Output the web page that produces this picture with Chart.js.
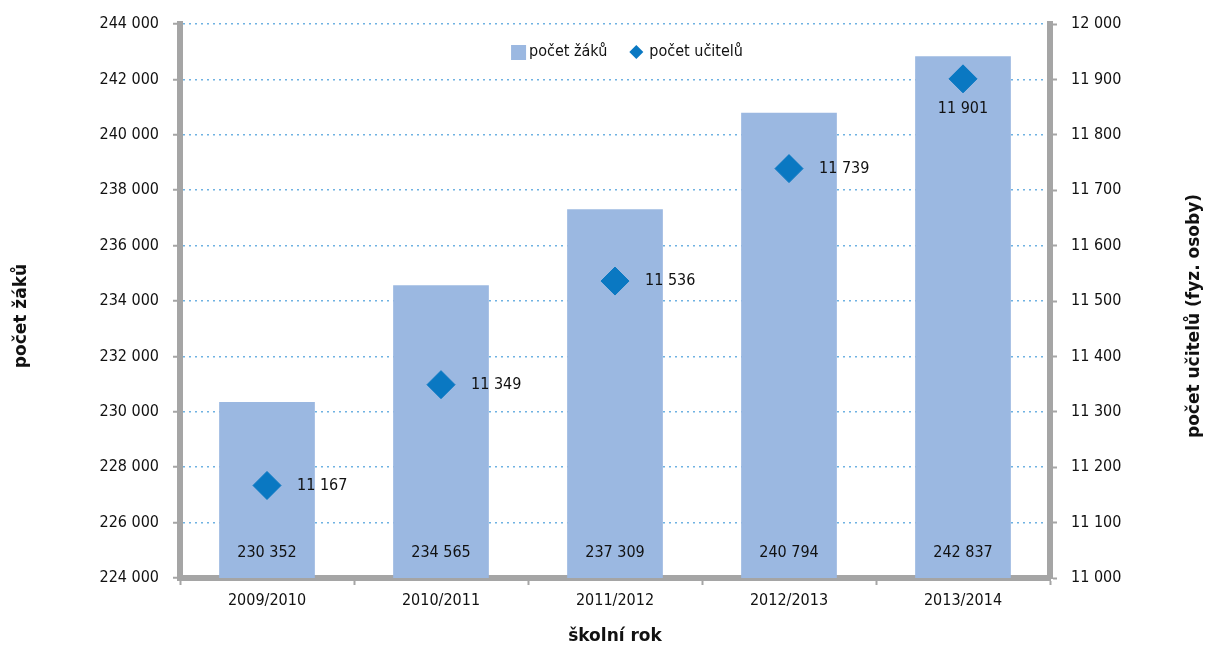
<!DOCTYPE html>
<html>
<head>
<meta charset="utf-8">
<script src="https://cdn.jsdelivr.net/npm/chart.js@4.4.1/dist/chart.umd.min.js"></script>
<style>
  html, body { margin: 0; padding: 0; background: #fff; }
  #wrap { width: 1209px; height: 648px; }
</style>
</head>
<body>
<div id="wrap"><canvas id="chart"></canvas></div>
<script>
// data
const years = ['2009/2010', '2010/2011', '2011/2012', '2012/2013', '2013/2014'];
const pupils = [230352, 234565, 237309, 240794, 242837];
const teachers = [11167, 11349, 11536, 11739, 11901];
const leftTitle = 'počet žáků';
const rightTitle = 'počet učitelů (fyz. osoby)';

const FONT = "'DejaVu Sans Condensed', 'Liberation Sans Narrow', sans-serif";
const TITLE_FONT = "'DejaVu Sans', sans-serif";
const BAR_COLOR = '#9bb8e1';
const DOT_COLOR = '#0a78c2';
const AXIS_GRAY = '#a5a5a5';

function fmt(v) {
    return String(v).replace(/\B(?=(\d{3})+(?!\d))/g, ' ');
}

// value labels: bar values at the foot of each bar, teacher counts next to the diamonds
const valueLabels = {
    id: 'valueLabels',
    afterDatasetsDraw(chart) {
        const ctx = chart.ctx;
        const area = chart.chartArea;
        ctx.save();
        ctx.font = '16px ' + FONT;
        ctx.fillStyle = '#111';
        chart.data.datasets.forEach((ds, i) => {
            const meta = chart.getDatasetMeta(i);
            meta.data.forEach((el, j) => {
                const txt = fmt(ds.data[j]);
                if (ds.type === 'bar') {
                    ctx.textAlign = 'center';
                    ctx.textBaseline = 'middle';
                    ctx.fillText(txt, el.x, area.bottom - 25);
                } else {
                    const w = ctx.measureText(txt).width;
                    if (el.x + 30 + w > area.right - 30) {
                        // no room on the right: put it under the marker
                        ctx.textAlign = 'center';
                        ctx.textBaseline = 'middle';
                        ctx.fillText(txt, el.x, el.y + 30);
                    } else {
                        ctx.textAlign = 'left';
                        ctx.textBaseline = 'middle';
                        ctx.fillText(txt, el.x + 30, el.y);
                    }
                }
            });
        });
        ctx.restore();
    }
};

// legend inside the plot area plus the two vertical axis titles (both read bottom-up)
const extras = {
    id: 'extras',
    afterDraw(chart) {
        const ctx = chart.ctx;
        const area = chart.chartArea;
        const y = area.top + 28;
        ctx.save();
        ctx.font = '16px ' + FONT;
        ctx.textBaseline = 'middle';
        ctx.textAlign = 'left';
        const l1 = chart.data.datasets[0].label;
        const l2 = chart.data.datasets[1].label;
        const w1 = ctx.measureText(l1).width;
        const w2 = ctx.measureText(l2).width;
        const total = 15 + 3 + w1 + 22 + 14 + 6 + w2;
        let x = (area.left + area.right) / 2 + 12 - total / 2;
        ctx.fillStyle = BAR_COLOR;
        ctx.fillRect(x, y - 7, 15, 15);
        x += 18;
        ctx.fillStyle = '#111';
        ctx.fillText(l1, x, y);
        x += w1 + 22;
        ctx.fillStyle = DOT_COLOR;
        ctx.beginPath();
        ctx.moveTo(x + 7, y - 7);
        ctx.lineTo(x + 14, y);
        ctx.lineTo(x + 7, y + 7);
        ctx.lineTo(x, y);
        ctx.closePath();
        ctx.fill();
        x += 20;
        ctx.fillStyle = '#111';
        ctx.fillText(l2, x, y);

        ctx.font = 'bold 17px ' + TITLE_FONT;
        ctx.textAlign = 'center';
        const cy = (area.top + area.bottom) / 2 + 15;
        [[22, leftTitle], [1195, rightTitle]].forEach(([tx, t]) => {
            ctx.save();
            ctx.translate(tx, cy);
            ctx.rotate(-Math.PI / 2);
            ctx.fillText(t, 0, 0);
            ctx.restore();
        });
        ctx.restore();
    }
};

Chart.defaults.font.family = FONT;
Chart.defaults.color = '#111';

new Chart(document.getElementById('chart'), {
    data: {
        labels: years,
        datasets: [{
            type: 'bar',
            label: 'počet žáků',
            data: pupils,
            backgroundColor: BAR_COLOR,
            barPercentage: 0.55,
            categoryPercentage: 1,
            yAxisID: 'y',
            order: 2
        }, {
            type: 'line',
            label: 'počet učitelů',
            data: teachers,
            showLine: false,
            pointStyle: 'rectRot',
            pointRadius: 14,
            pointHoverRadius: 14,
            pointBackgroundColor: DOT_COLOR,
            pointBorderColor: DOT_COLOR,
            yAxisID: 'y1',
            order: 1
        }]
    },
    options: {
        responsive: true,
        maintainAspectRatio: false,
        animation: false,
        layout: { padding: { top: 24, right: 0, bottom: 0, left: 0 } },
        plugins: {
            legend: { display: false },
            tooltip: { enabled: false }
        },
        scales: {
            x: {
                z: 1,
                grid: {
                    offset: true,
                    drawOnChartArea: false,
                    tickLength: 7,
                    tickColor: AXIS_GRAY,
                    tickWidth: 2
                },
                border: { color: AXIS_GRAY, width: 6 },
                ticks: { font: { size: 16 }, padding: 6 },
                title: {
                    display: true,
                    text: 'školní rok',
                    font: { family: TITLE_FONT, size: 17, weight: 'bold' },
                    padding: { top: 0, bottom: 1 }
                },
                afterFit: s => { s.height = 70; }
            },
            y: {
                position: 'left',
                min: 224000,
                max: 244000,
                grid: {
                    color: '#6fb2e2',
                    lineWidth: 1.5,
                    tickLength: 7,
                    tickColor: AXIS_GRAY,
                    tickWidth: 2
                },
                border: { color: AXIS_GRAY, width: 6, dash: [2, 4] },
                ticks: {
                    stepSize: 2000,
                    padding: 14,
                    font: { size: 16 },
                    callback: v => fmt(v)
                },
                afterFit: s => { s.width = 180; }
            },
            y1: {
                position: 'right',
                min: 11000,
                max: 12000,
                grid: {
                    drawOnChartArea: false,
                    tickLength: 7,
                    tickColor: AXIS_GRAY,
                    tickWidth: 2
                },
                border: { color: AXIS_GRAY, width: 6 },
                ticks: {
                    stepSize: 100,
                    padding: 14,
                    font: { size: 16 },
                    callback: v => fmt(v)
                },
                afterFit: s => { s.width = 159; }
            }
        }
    },
    plugins: [valueLabels, extras]
});
</script>
</body>
</html>
